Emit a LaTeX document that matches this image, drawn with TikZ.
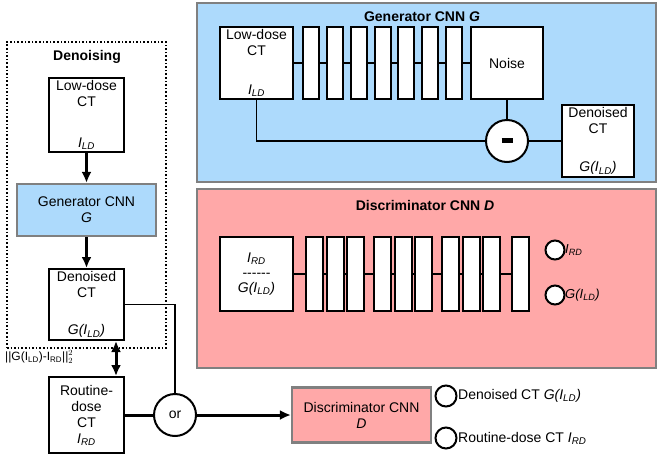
\documentclass[tikz,border=0pt]{standalone}
\usepackage{fontspec}
\setmainfont{Liberation Sans}
\usetikzlibrary{arrows.meta,calc}
\definecolor{genblue}{RGB}{173,218,252}
\definecolor{dispink}{RGB}{255,168,168}
\definecolor{pgray}{RGB}{128,128,128}
\newcommand\ILD{\textit{I\textsubscript{LD}}}
\newcommand\IRD{\textit{I\textsubscript{RD}}}
\newcommand\GILD{\textit{G(I\textsubscript{LD})}}
\begin{document}
\begin{tikzpicture}[x=1pt,y=-1pt,font=\fontsize{14}{16}\selectfont,
  box/.style={draw=black,line width=2pt,fill=white,inner sep=0pt},
  colbox/.style={draw=pgray,line width=2.2pt,inner sep=0pt,align=center},
  panel/.style={draw=pgray,line width=2.2pt},
  layer/.style={draw=black,line width=1.8pt,fill=white,inner sep=0pt,minimum width=16,minimum height=72},
  dlayer/.style={layer,minimum width=17,minimum height=74},
  txt/.style={inner sep=1pt,align=center},
  circ/.style={circle,draw=black,line width=2pt,fill=white,inner sep=0pt},
  tip/.style={Latex[length=11pt,width=10pt]},
  flow/.style={line width=3pt,-{Latex[length=11pt,width=10pt]}},
  conn/.style={line width=1.8pt},
  thickconn/.style={line width=3pt}]
\useasboundingbox (0,0) rectangle (663,458);

% ---------- Left column ----------
\node[draw=black,dotted,line width=1.6pt,minimum width=159,minimum height=306,inner sep=0] (denoise) at (86.5,195) {};
\node[txt,font=\fontsize{14}{16}\selectfont\bfseries] (denoiseT) at (87,57) {Denoising};

\node[box,minimum width=75,minimum height=74] (ld) at (86.5,115) {};
\node[txt,anchor=north] (ldT) at ([yshift=-2]ld.north) {Low-dose\\CT};
\node[txt,anchor=south] (ldS) at ([yshift=2]ld.south) {\ILD};

\node[colbox,fill=genblue,minimum width=139,minimum height=52] (gen) at (86.5,210) {Generator CNN\\\textit{G}};

\node[box,minimum width=75,minimum height=71] (den) at (86.5,304.5) {};
\node[txt,anchor=north] (denT) at ([yshift=-2]den.north) {Denoised\\CT};
\node[txt,anchor=south] (denS) at ([yshift=2]den.south) {\GILD};

\node[box,minimum width=75,minimum height=76,align=center,inner sep=0pt] (rout) at (86.5,415)
  {\fontsize{14}{17}\selectfont Routine-\\dose\\CT\\\IRD};

\node[anchor=west,inner sep=0pt,font=\fontsize{12}{14}\selectfont] (norm) at (5,357)
  {||G(I\textsubscript{LD})-I\textsubscript{RD}||$^2_2$};

\node[circ,minimum size=42] (or) at (175,415) {or};

\node[colbox,fill=dispink,minimum width=139,minimum height=55] (disc) at (361.5,415) {Discriminator CNN\\\textit{D}};

\node[circ,minimum size=21] (lc1) at (446,396) {};
\node[anchor=west,inner sep=1pt] (lt1) at (457,396) {Denoised CT \GILD};
\node[circ,minimum size=21] (lc2) at (446,438) {};
\node[anchor=west,inner sep=1pt] (lt2) at (457,438) {Routine-dose CT \IRD};

\draw[flow] (ld.south) -- (gen.north);
\draw[flow] (gen.south) -- (den.north);
\draw[line width=3pt,{Latex[length=11pt,width=10pt]}-{Latex[length=11pt,width=10pt]}]
  ([xshift=-9]den.south east) -- ([xshift=-9]rout.north east);
\draw[conn] (den.east) -| (or.north);
\draw[thickconn] (rout.east) -- (or.west);
\draw[flow] (or.east) -- (disc.west);

% ---------- Generator panel ----------
\node[panel,fill=genblue,minimum width=459,minimum height=179,inner sep=0] (genp) at (426.5,92.5) {};
\node[txt,font=\fontsize{14}{16}\selectfont\bfseries] (genpT) at (422,17) {Generator CNN \textit{G}};

\node[box,minimum width=73,minimum height=72] (ldg) at (256.5,63) {};
\node[txt,anchor=north] (ldgT) at ([yshift=-2]ldg.north) {Low-dose\\CT};
\node[txt,anchor=south] (ldgS) at ([yshift=2]ldg.south) {\ILD};
\foreach \i/\x in {1/311,2/335,3/359,4/383,5/406,6/430,7/454} {
  \node[layer] (g\i) at (\x,63) {};
}
\node[box,minimum width=72,minimum height=72] (noise) at (507,63) {Noise};
\draw[conn] (ldg.east) -- (g1.west);
\foreach \a/\b in {1/2,2/3,3/4,4/5,5/6,6/7} { \draw[conn] (g\a.east) -- (g\b.west); }
\draw[conn] (g7.east) -- (noise.west);

\node[circ,minimum size=42] (minus) at (507,141) {\rule[0.5pt]{11pt}{5pt}};
\node[box,minimum width=72,minimum height=72] (dng) at (598,141) {};
\node[txt,anchor=north] (dngT) at ([yshift=-2]dng.north) {Denoised\\CT};
\node[txt,anchor=south] (dngS) at ([yshift=2]dng.south) {\GILD};
\draw[conn] (noise.south) -- (minus.north);
\draw[conn] (ldg.south) |- (minus.west);
\draw[conn] (minus.east) -- (dng.west);

% ---------- Discriminator panel ----------
\node[panel,fill=dispink,minimum width=459,minimum height=179,inner sep=0] (disp) at (426.5,278.5) {};
\node[txt,font=\fontsize{14}{16}\selectfont\bfseries] (dispT) at (425,205) {Discriminator CNN \textit{D}};

\node[box,minimum width=73,minimum height=74,align=center] (inp) at (256.5,274)
  {\fontsize{14}{13}\selectfont\IRD\\[-1pt]{-}{-}{-}{-}{-}{-}\\[-1pt]\GILD};
\foreach \i/\x in {1/314.5,2/335.5,3/355.5,4/382.5,5/403.5,6/423.5,7/450.5,8/471.5,9/491.5,10/520.5} {
  \node[dlayer] (d\i) at (\x,274) {};
}
\draw[conn] (inp.east) -- (d1.west);
\foreach \a/\b in {1/2,2/3,3/4,4/5,5/6,6/7,7/8,8/9,9/10} { \draw[conn] (d\a.east) -- (d\b.west); }

\node[circ,minimum size=19] (dc1) at (555,250) {};
\node[anchor=west,inner sep=1pt,font=\fontsize{13}{15}\selectfont] (dt1) at (564,250) {\IRD};
\node[circ,minimum size=19] (dc2) at (555,295) {};
\node[anchor=west,inner sep=1pt,font=\fontsize{13}{15}\selectfont] (dt2) at (564,295) {\GILD};
\end{tikzpicture}
\end{document}
